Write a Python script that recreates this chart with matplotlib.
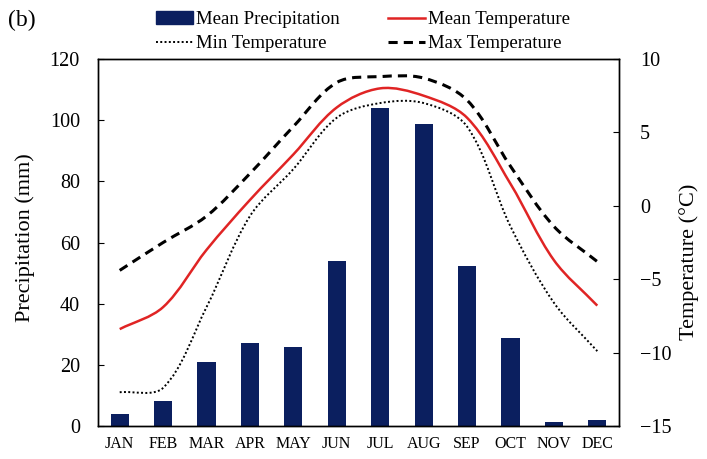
import matplotlib
matplotlib.use('Agg')
import matplotlib.pyplot as plt
import numpy as np
from matplotlib.path import Path
from matplotlib.patches import PathPatch, Patch
from matplotlib.lines import Line2D

plt.rcParams['font.family'] = ['Liberation Serif', 'DejaVu Serif']

months = ['JAN', 'FEB', 'MAR', 'APR', 'MAY', 'JUN',
          'JUL', 'AUG', 'SEP', 'OCT', 'NOV', 'DEC']
precip = [3.9, 8.3, 20.8, 27.0, 25.9, 53.9, 104.1, 98.6, 52.4, 28.9, 1.4, 2.0]
t_mean = [-8.4, -6.9, -3.0, 0.4, 3.5, 6.7, 8.0, 7.5, 6.0, 1.5, -3.7, -6.8]
t_max = [-4.4, -2.5, -0.7, 2.2, 5.4, 8.4, 8.8, 8.7, 7.2, 2.7, -1.4, -3.8]
t_min = [-12.7, -12.4, -6.9, -0.7, 2.5, 6.0, 7.0, 7.0, 5.4, -1.4, -6.6, -9.9]

bar_col = '#0b1f5f'
red = '#e02424'


def smooth_path(axis, x, y):
    # Excel-like smoothed line: bezier control points scaled by the
    # screen length of neighbouring segments
    x = np.asarray(x, float)
    y = np.asarray(y, float)
    n = len(x)
    px = axis.transData.transform(np.column_stack([x, y]))
    dist = np.hypot(*np.diff(px, axis=0).T)
    verts = [(x[0], y[0])]
    codes = [Path.MOVETO]
    for i in range(n - 1):
        a = i - 1 if i > 0 else i
        b = i + 2 if i + 2 < n else i + 1
        d01 = dist[i - 1] if i > 0 else 0.0
        d12 = dist[i]
        d23 = dist[i + 1] if i + 2 < n else 0.0
        f1 = d12 / (d01 + d12) / 3
        f2 = d12 / (d12 + d23) / 3
        c1 = (x[i] + (x[i + 1] - x[a]) * f1, y[i] + (y[i + 1] - y[a]) * f1)
        c2 = (x[i + 1] - (x[b] - x[i]) * f2, y[i + 1] - (y[b] - y[i]) * f2)
        verts += [c1, c2, (x[i + 1], y[i + 1])]
        codes += [Path.CURVE4] * 3
    return Path(verts, codes)


fig = plt.figure(figsize=(7.07, 4.59), dpi=100)
ax = fig.add_axes([98 / 707, 33 / 459, 521 / 707, 367 / 459])
x = np.arange(len(months))

ax.bar(x, precip, width=0.42, color=bar_col)
ax.set_xlim(-0.5, 11.5)
ax.set_ylim(0, 120)
ax.set_yticks(range(0, 121, 20))
ax.set_xticks(x)
ax.set_xticklabels(months)
ax.tick_params(axis='y', direction='in', length=4, labelsize=14.5, pad=13)
ax.tick_params(axis='x', length=0, labelsize=11.5, pad=7)

ax2 = ax.twinx()
ax2.set_xlim(-0.5, 11.5)
ax2.set_ylim(-15, 10)
ax2.set_yticks(range(-15, 11, 5))
ax2.tick_params(axis='y', direction='in', length=4, labelsize=14.5, pad=15)

ax2.add_patch(PathPatch(smooth_path(ax2, x, t_max), fill=False, color='black',
                        lw=2.2, linestyle=(0, (3, 2))))
ax2.add_patch(PathPatch(smooth_path(ax2, x, t_mean), fill=False, color=red,
                        lw=1.8))
ax2.add_patch(PathPatch(smooth_path(ax2, x, t_min), fill=False, color='black',
                        lw=1.4, linestyle=(0, (1, 1.2))))

for a in (ax, ax2):
    for s in a.spines.values():
        s.set_linewidth(1.0)
        s.set_color('black')

fig.text(25 / 707, 1 - 238 / 459, 'Precipitation (mm)', rotation=90,
         ha='center', va='center', fontsize=16)
fig.text(689 / 707, 1 - 262 / 459, 'Temperature (°C)', rotation=90,
         ha='center', va='center', fontsize=16)
fig.text(8 / 707, 1 - 20 / 459, '(b)', fontsize=17, va='center')

handles = [Patch(color=bar_col),
           Line2D([], [], color='black', lw=1.4, linestyle=(0, (1, 1.2))),
           Line2D([], [], color=red, lw=1.8),
           Line2D([], [], color='black', lw=2.2, linestyle=(0, (3, 2)))]
labels = ['Mean Precipitation', 'Min Temperature',
          'Mean Temperature', 'Max Temperature']
fig.legend(handles, labels, ncol=2, loc='center', bbox_to_anchor=(0.513, 0.931),
           frameon=False, fontsize=13.5, handlelength=1.97, handletextpad=0.16,
           columnspacing=2.56, labelspacing=0.36, borderpad=0)

fig.savefig('out.png', dpi=100)
